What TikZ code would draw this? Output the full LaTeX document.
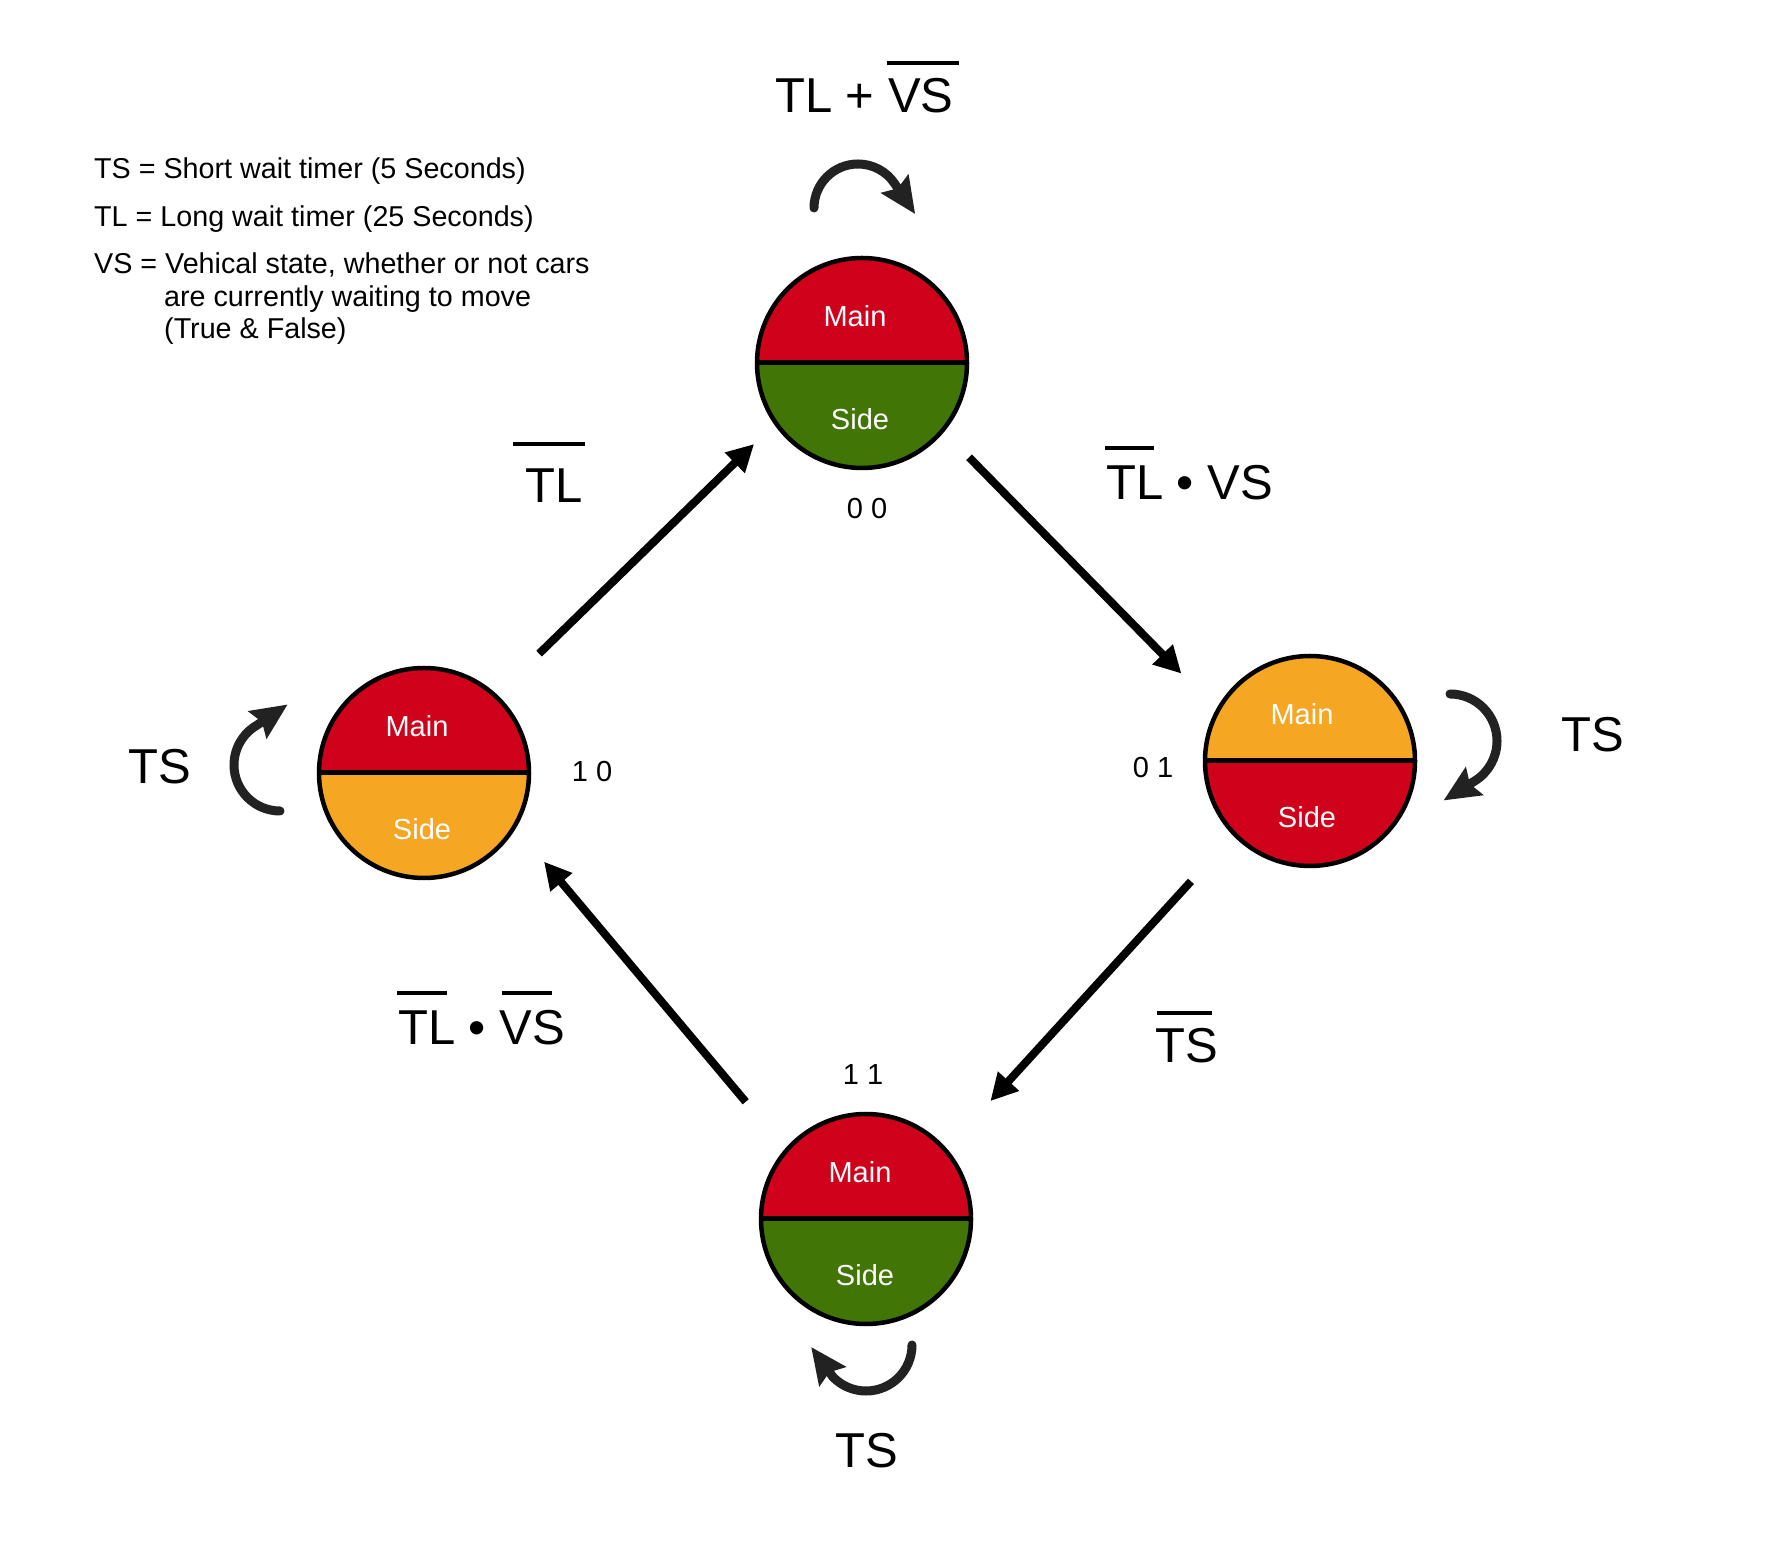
\documentclass[tikz,border=0pt]{standalone}
\usepackage{fontspec}
\setmainfont{Liberation Sans}
\usetikzlibrary{arrows.meta}
\definecolor{mred}{HTML}{D0021B}
\definecolor{mgreen}{HTML}{417505}
\definecolor{morange}{HTML}{F5A623}
\definecolor{loopgray}{HTML}{222222}
% overline: #1 lift, #2 x offset, #3 width, #4 text
\newcommand{\ovl}[4]{\rlap{\hspace*{#2}\rule[#1]{#3}{4pt}}#4}
\begin{document}
\begin{tikzpicture}[x=1pt,y=1pt,
  statenode/.style 2 args={circle, draw=black, line width=4.5pt, minimum size=210pt, inner sep=0pt,
    path picture={
      \fill[#1] (path picture bounding box.north west) rectangle (path picture bounding box.east);
      \fill[#2] (path picture bounding box.west) rectangle (path picture bounding box.south east);
      \draw[line width=5pt] (path picture bounding box.west) -- (path picture bounding box.east);
    }},
  big/.style={font=\fontsize{49}{58}\selectfont, inner sep=0pt, text=black},
  legend/.style={font=\fontsize{28.7}{34}\selectfont, inner sep=0pt, anchor=base west},
  lamp/.style={font=\fontsize{29}{34}\selectfont, text=white, inner sep=0pt, anchor=base},
  code/.style={font=\fontsize{29}{34}\selectfont, inner sep=0pt, anchor=base},
  trans/.style={line width=8pt, draw=black, -{Triangle[length=27pt,width=27pt]}},
  loopar/.style={line width=9pt, draw=loopgray, line cap=round, -{Stealth[length=36pt,width=32pt,inset=5pt]}},
]
\useasboundingbox (0,0) rectangle (1766,1550);
\fill[white] (0,0) rectangle (1766,1550);

% states
\node[statenode={mred}{mgreen}] (T) at (862,1187) {};
\node[statenode={morange}{mred}] (R) at (1310,789) {};
\node[statenode={mred}{mgreen}] (B) at (866,331) {};
\node[statenode={mred}{morange}] (L) at (424,777) {};

\node[lamp] (Tm) at ([shift={(-7,36)}]T.center) {Main};
\node[lamp] (Ts) at ([shift={(-2,-67)}]T.center) {Side};
\node[lamp] (Rm) at ([shift={(-8,36)}]R.center) {Main};
\node[lamp] (Rs) at ([shift={(-3,-67)}]R.center) {Side};
\node[lamp] (Bm) at ([shift={(-6,36)}]B.center) {Main};
\node[lamp] (Bs) at ([shift={(-1,-67)}]B.center) {Side};
\node[lamp] (Lm) at ([shift={(-7,36)}]L.center) {Main};
\node[lamp] (Ls) at ([shift={(-2,-67)}]L.center) {Side};

% state codes
\node[code] (Tc) at (867,1031) {0 0};
\node[code] (Lc) at (592,768) {1 0};
\node[code] (Rc) at (1153,772) {0 1};
\node[code] (Bc) at (863,465) {1 1};

% legend
\node[legend] (leg1) at (94,1371) {TS = Short wait timer (5 Seconds)};
\node[legend] (leg2) at (94,1323) {TL = Long wait timer (25 Seconds)};
\node[legend] (leg3) at (94,1276) {VS = Vehical state, whether or not cars};
\node[legend] (leg4) at (164,1243) {are currently waiting to move};
\node[legend] (leg5) at (164,1211) {(True \& False)};

% transition labels
\node[big, anchor=base west] (lblTop) at (775,1437) {TL + \ovl{48pt}{-1pt}{72pt}{VS}};
\node[big, anchor=base west] (lblTL) at (525,1047) {\ovl{57pt}{-12pt}{72pt}{TL}};
\node[big, anchor=base west] (lblTR) at (1106,1050) {\ovl{50pt}{-1pt}{49pt}{TL} • VS};
\node[big, anchor=base west] (lblR) at (1561,798) {TS};
\node[big, anchor=base west] (lblBR) at (1155,487) {\ovl{48pt}{2pt}{55pt}{TS}};
\node[big, anchor=base west] (lblBL) at (398,505) {\ovl{50pt}{-1pt}{50pt}{TL} • \ovl{50pt}{2pt}{50pt}{VS}};
\node[big, anchor=base] (lblB) at (867,83) {TS};
\node[big, anchor=base west] (lblL) at (128,766) {TS};

% transitions
\draw[trans, shorten <=58.6pt, shorten >=28pt] (L.47.9) -- (T.215.8);
\draw[trans, shorten <=35.5pt, shorten >=49.6pt] (T.-40.6) -- (R.151.8);
\draw[trans, shorten <=62.1pt, shorten >=64.4pt] (R.224.8) -- (B.41.4);
\draw[trans, shorten <=61.2pt, shorten >=43.7pt] (B.139.7) -- (L.-31.9);

% self loops
\draw[loopar] ([shift={(-48,155)}]T.center) arc[start angle=180, end angle=34, radius=44] -- ++(-56:37);
\draw[loopar] ([shift={(-144,-38)}]L.center) arc[start angle=270, end angle=120, radius=46] -- ++(34:37);
\draw[loopar] ([shift={(140,67)}]R.center) arc[start angle=90, end angle=-58, radius=47] -- ++(-148:37);
\draw[loopar] ([shift={(46,-126)}]B.center) arc[start angle=0, end angle=-136, radius=46] -- ++(126:37);
\end{tikzpicture}
\end{document}
